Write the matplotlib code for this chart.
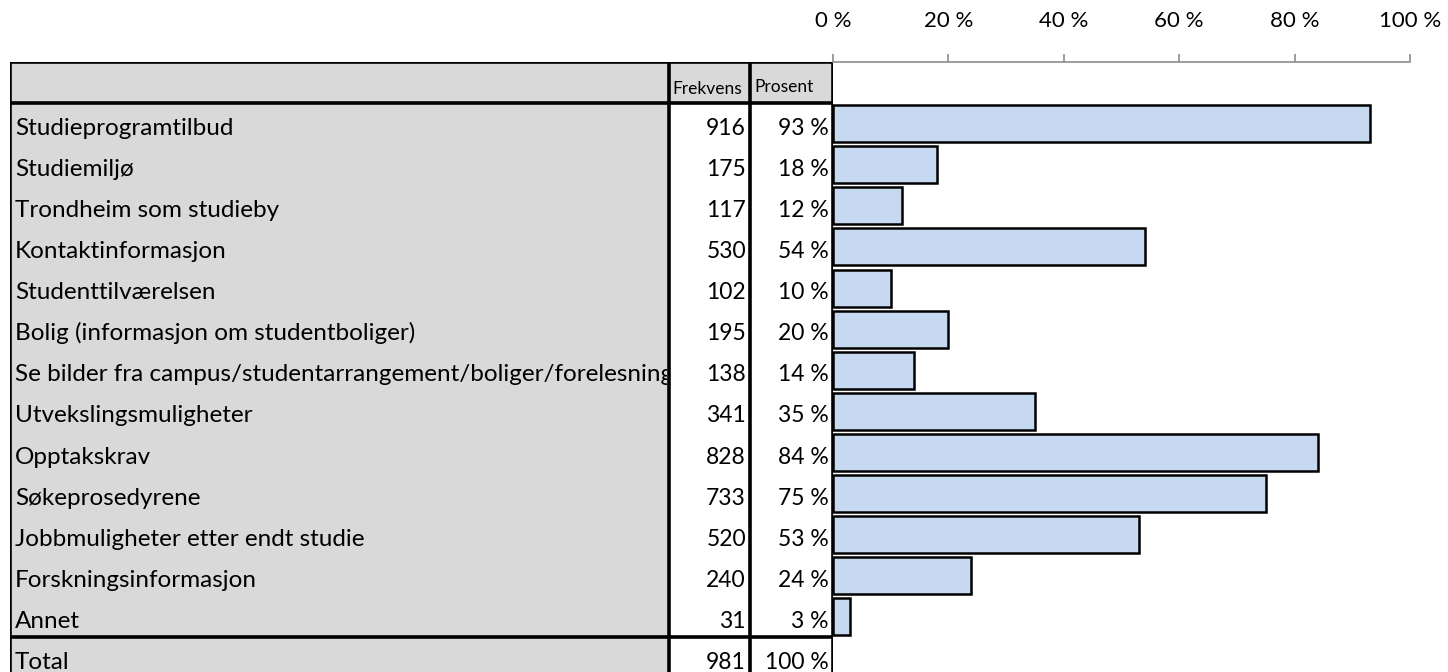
import matplotlib.pyplot as plt
from matplotlib.patches import Rectangle
from matplotlib.transforms import Bbox, TransformedBbox

plt.rcParams['font.family'] = ['Lato', 'DejaVu Sans']

categories = [
    'Studieprogramtilbud',
    'Studiemiljø',
    'Trondheim som studieby',
    'Kontaktinformasjon',
    'Studenttilværelsen',
    'Bolig (informasjon om studentboliger)',
    'Se bilder fra campus/studentarrangement/boliger/forelesninger',
    'Utvekslingsmuligheter',
    'Opptakskrav',
    'Søkeprosedyrene',
    'Jobbmuligheter etter endt studie',
    'Forskningsinformasjon',
    'Annet',
]
frekvens = [916, 175, 117, 530, 102, 195, 138, 341, 828, 733, 520, 240, 31]
prosent = [93, 18, 12, 54, 10, 20, 14, 35, 84, 75, 53, 24, 3]
total_frekvens = 981
total_prosent = 100
tick_values = [0, 20, 40, 60, 80, 100]

W, H = 1448, 672
fig = plt.figure(figsize=(W / 100, H / 100), dpi=100)

# vertical layout: header row plus item rows plus total row, ~41 px each
n_rows = len(categories)
row_px = 41.1
top_px = 62
ymax = (H - top_px) / row_px
ax_h = (H - top_px) / H

# table columns in pixel units
col_edges = [10, 669, 750, 833]
tab = fig.add_axes([col_edges[0] / W, 0, (col_edges[-1] - col_edges[0]) / W, ax_h])
tab.set_xlim(col_edges[0], col_edges[-1])
tab.set_ylim(ymax, 0)
tab.axis('off')

gray = '#d9d9d9'
# header row (all gray)
tab.add_patch(Rectangle((col_edges[0], 0), col_edges[-1] - col_edges[0], 1,
                        facecolor=gray, edgecolor='none'))
# label column gray down to the bottom
tab.add_patch(Rectangle((col_edges[0], 1), col_edges[1] - col_edges[0], ymax - 1,
                        facecolor=gray, edgecolor='none'))

lw = 2.6
# outer / structural borders
tab.plot([col_edges[0], col_edges[-1]], [0, 0], color='black', lw=lw, solid_capstyle='projecting')
tab.plot([col_edges[0], col_edges[-1]], [1, 1], color='black', lw=lw)
tab.plot([col_edges[0], col_edges[-1]], [n_rows + 1, n_rows + 1], color='black', lw=lw)
for x in col_edges:
    tab.plot([x, x], [0, ymax], color='black', lw=lw, solid_capstyle='projecting')

tab.text(col_edges[1] + 3, 0.78, 'Frekvens', fontsize=12.5, va='baseline', ha='left')
tab.text(col_edges[2] + 4, 0.74, 'Prosent', fontsize=12.5, va='baseline', ha='left')

label_fs = 17.5
num_fs = 16.5
rows = list(zip(categories, frekvens, [f'{p} %' for p in prosent]))
rows.append(('Total', total_frekvens, f'{total_prosent} %'))
# long labels are cut at the edge of the label column
clip_box = TransformedBbox(Bbox.from_extents(col_edges[0] / W, 0, (col_edges[1] - 2) / W, 1),
                           fig.transFigure)
for i, (name, f, p) in enumerate(rows):
    y = i + 1.77
    t = tab.text(col_edges[0] + 5, y, name, fontsize=label_fs, va='baseline', ha='left')
    t.set_clip_box(clip_box)
    t.set_clip_on(True)
    tab.text(col_edges[2] - 4, y, str(f), fontsize=num_fs, va='baseline', ha='right')
    tab.text(col_edges[3] - 4, y, p, fontsize=num_fs, va='baseline', ha='right')

# bar chart to the right of the table
bar = fig.add_axes([col_edges[-1] / W, 0, (1410 - col_edges[-1]) / W, ax_h])
bar.set_xlim(0, 100)
bar.set_ylim(ymax, 0)
ypos = [i + 1.5 for i in range(n_rows)]
bar.barh(ypos, prosent, height=0.9, color='#c6d9f0', edgecolor='black', linewidth=1.8)

for s in ['left', 'right', 'bottom']:
    bar.spines[s].set_visible(False)
bar.spines['top'].set_color('#8c8c8c')
bar.spines['top'].set_linewidth(1.2)
bar.xaxis.tick_top()
bar.set_xticks(tick_values)
bar.set_xticklabels([f'{v} %' for v in tick_values], fontsize=16)
bar.tick_params(axis='x', direction='out', length=6, width=1.2, color='#8c8c8c', pad=16)
bar.set_yticks([])
bar.patch.set_alpha(0)

fig.savefig('out.png', dpi=100)
